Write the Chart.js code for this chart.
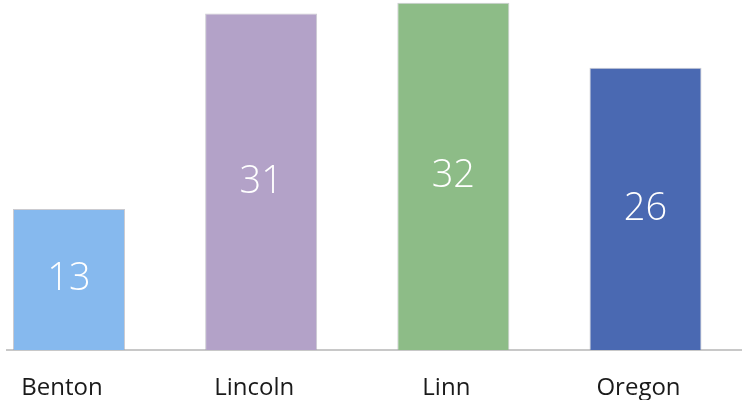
<!DOCTYPE html>
<html>
<head>
<meta charset="utf-8">
<style>
  html, body { margin: 0; padding: 0; background: #ffffff; }
  #wrap { width: 742px; height: 400px; }
</style>
<script src="https://cdn.jsdelivr.net/npm/chart.js@4.4.1/dist/chart.umd.min.js"></script>
</head>
<body>
<div id="wrap"><canvas id="c" width="742" height="400"></canvas></div>
<script>
const categories = ['Benton', 'Lincoln', 'Linn', 'Oregon'];
const values = [13, 31, 32, 26];
const barColors = ['#86b9ee', '#b3a2c8', '#8dbc87', '#4a69b2'];

const valueLabels = {
  id: 'valueLabels',
  afterDatasetsDraw(chart) {
    const ctx = chart.ctx;
    const meta = chart.getDatasetMeta(0);
    ctx.save();
    ctx.fillStyle = '#ffffff';
    ctx.font = '300 38px "Open Sans", sans-serif';
    ctx.textAlign = 'center';
    ctx.textBaseline = 'middle';
    meta.data.forEach((bar, i) => {
      const p = bar.getProps(['x', 'y', 'base'], true);
      ctx.fillText(String(values[i]), p.x, (p.y + p.base) / 2);
    });
    ctx.restore();
  }
};

new Chart(document.getElementById('c'), {
  type: 'bar',
  data: {
    datasets: [{
      data: values.map((v, i) => ({ x: i, y: v })),
      backgroundColor: barColors,
      borderColor: 'rgba(160,160,170,0.55)',
      borderWidth: 1,
      categoryPercentage: 1,
      barPercentage: 0.583
    }]
  },
  options: {
    responsive: false,
    animation: false,
    layout: { padding: { left: 7, right: 0, top: 0, bottom: 0 } },
    plugins: { legend: { display: false }, tooltip: { enabled: false } },
    scales: {
      x: {
        type: 'linear',
        offset: false,
        min: -0.3226,
        max: 3.5021,
        grid: { display: false, drawTicks: false },
        border: { display: true, color: '#c8c8c8', width: 2 },
        afterBuildTicks(scale) {
          scale.ticks = categories.map((c, i) => ({ value: i }));
        },
        afterFit(scale) {
          scale.height = 50;
        },
        ticks: {
          autoSkip: false,
          maxRotation: 0,
          padding: 26,
          labelOffset: -7,
          color: '#1a1a1a',
          font: { family: '"Open Sans", sans-serif', size: 24, lineHeight: 1 },
          callback: (v) => categories[v]
        }
      },
      y: {
        display: false,
        min: 0,
        max: 32.25
      }
    }
  },
  plugins: [valueLabels]
});
</script>
</body>
</html>
